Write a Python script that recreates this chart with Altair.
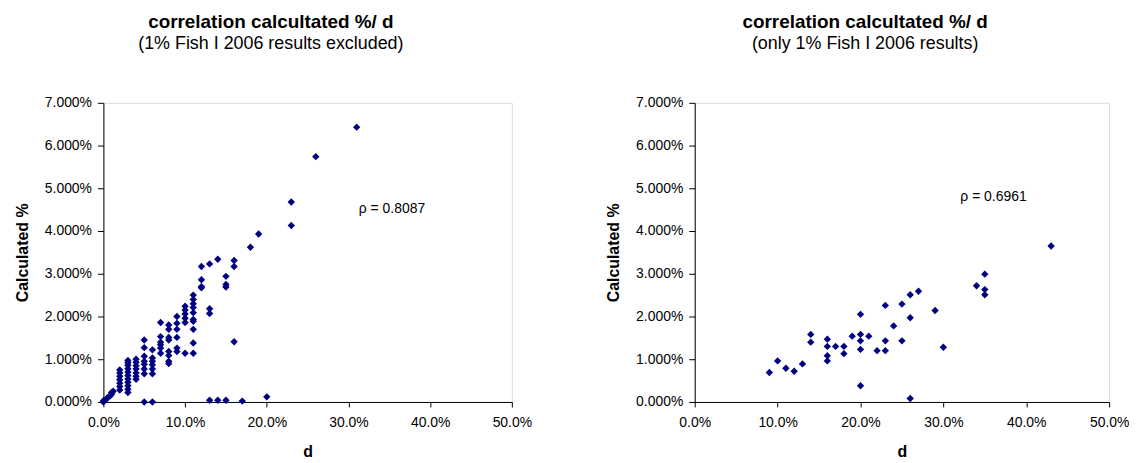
import altair as alt
import pandas as pd

# ---- data (fractions) ----
d_left = [
    0.0, 0.0, 0.003, 0.005, 0.008, 0.010, 0.010, 0.012,
    0.02, 0.02, 0.02, 0.02, 0.02, 0.02, 0.02,
    0.03, 0.03, 0.03, 0.03, 0.03, 0.03, 0.03, 0.03, 0.03, 0.03, 0.03,
    0.04, 0.04, 0.04, 0.04, 0.04, 0.04, 0.04,
    0.05, 0.05, 0.05, 0.05, 0.05, 0.05, 0.05, 0.05,
    0.06, 0.06, 0.06, 0.06, 0.06, 0.06, 0.06,
    0.07, 0.07, 0.07, 0.07, 0.07, 0.07,
    0.08, 0.08, 0.08, 0.08, 0.08, 0.08, 0.08, 0.08,
    0.09, 0.09, 0.09, 0.09, 0.09, 0.09,
    0.10, 0.10, 0.10, 0.10, 0.10, 0.10,
    0.11, 0.11, 0.11, 0.11, 0.11, 0.11, 0.11, 0.11, 0.11, 0.11,
    0.12, 0.12, 0.12, 0.12,
    0.13, 0.13, 0.13, 0.13,
    0.14, 0.14,
    0.15, 0.15, 0.15, 0.15,
    0.16, 0.16, 0.16,
    0.17, 0.18, 0.19, 0.20,
    0.23, 0.23, 0.26, 0.31,
]
calc_left = [
    0.0, 0.0003, 0.0005, 0.0010, 0.0014, 0.0018, 0.0022, 0.0025,
    0.0028, 0.0036, 0.0044, 0.0052, 0.0060, 0.0068, 0.0075,
    0.0022, 0.0030, 0.0038, 0.0046, 0.0054, 0.0062, 0.0070, 0.0078, 0.0086, 0.0092, 0.0097,
    0.0053, 0.0060, 0.0068, 0.0077, 0.0085, 0.0093, 0.0100,
    0.0, 0.0066, 0.0077, 0.0088, 0.0095, 0.0107, 0.0127, 0.0145,
    0.0, 0.0066, 0.0077, 0.0087, 0.0095, 0.0103, 0.0122,
    0.0114, 0.0126, 0.0134, 0.0140, 0.0153, 0.0186,
    0.0090, 0.0095, 0.0109, 0.0118, 0.0145, 0.0151, 0.0170, 0.0180,
    0.0118, 0.0126, 0.0151, 0.0170, 0.0184, 0.0200,
    0.0114, 0.0186, 0.0196, 0.0206, 0.0215, 0.0224,
    0.0114, 0.0138, 0.0170, 0.0189, 0.0193, 0.0209, 0.0221, 0.0230, 0.0240, 0.0250,
    0.0267, 0.0270, 0.0286, 0.0317,
    0.0004, 0.0207, 0.0218, 0.0323,
    0.0004, 0.0334,
    0.0004, 0.0269, 0.0275, 0.0294,
    0.0141, 0.0317, 0.0331,
    0.0002, 0.0362, 0.0393, 0.0012,
    0.0413, 0.0468, 0.0574, 0.0643,
]

d_right = [
    0.09, 0.10, 0.11, 0.12, 0.13, 0.14, 0.14, 0.16, 0.16, 0.16, 0.16,
    0.17, 0.18, 0.18, 0.19, 0.20, 0.20, 0.20, 0.20, 0.20, 0.21, 0.22,
    0.23, 0.23, 0.23, 0.24, 0.25, 0.25, 0.26, 0.26, 0.26, 0.27, 0.29,
    0.30, 0.34, 0.35, 0.35, 0.35, 0.43,
]
calc_right = [
    0.0069, 0.0096, 0.0079, 0.0072, 0.0089, 0.0158, 0.0140, 0.0147, 0.0130, 0.0108, 0.0096,
    0.0130, 0.0130, 0.0113, 0.0154, 0.0205, 0.0158, 0.0143, 0.0123, 0.0038, 0.0154, 0.0120,
    0.0226, 0.0143, 0.0120, 0.0178, 0.0229, 0.0143, 0.0251, 0.0197, 0.0008, 0.0259, 0.0214,
    0.0128, 0.0272, 0.0299, 0.0263, 0.0251, 0.0365,
]

rho_labels = ["\u03c1 = 0.8087", "\u03c1 = 0.6961"]
rho_d = [0.3127, 0.3205]
rho_calc = [0.04425, 0.04697]

x_ticks = [0.0, 0.1, 0.2, 0.3, 0.4, 0.5]
y_ticks = [0.0, 0.01, 0.02, 0.03, 0.04, 0.05, 0.06, 0.07]

titles = ["correlation calcultated %/ d", "correlation  calcultated %/ d"]
subtitles = ["(1% Fish I 2006 results excluded)", "(only 1% Fish I 2006 results)"]

FONT = "Liberation Sans"
NAVY = "#000080"


def panel(d_vals, c_vals, rho_idx, width, title, subtitle, dx):
    df = pd.DataFrame({"d": d_vals, "calc": c_vals})
    tdf = pd.DataFrame({"d": [rho_d[rho_idx]], "calc": [rho_calc[rho_idx]],
                        "label": [rho_labels[rho_idx]]})
    xenc = alt.X("d:Q", scale=alt.Scale(domain=[0, 0.5], nice=False, zero=False),
                 axis=alt.Axis(title="d", values=x_ticks, format=".1%", grid=False,
                               domainColor="#000000", tickColor="#000000", tickSize=5,
                               labelFont=FONT, labelFontSize=14, labelColor="#000000",
                               labelPadding=9, titleFont=FONT, titleFontSize=16,
                               titleFontWeight="bold", titleColor="#000000",
                               titlePadding=14, labelFlush=False))
    yenc = alt.Y("calc:Q", scale=alt.Scale(domain=[0, 0.07], nice=False, zero=False),
                 axis=alt.Axis(title="Calculated %", values=y_ticks, format=".3%", grid=False,
                               domainColor="#000000", tickColor="#000000", tickSize=6,
                               labelFont=FONT, labelFontSize=14, labelColor="#000000",
                               labelPadding=6, titleFont=FONT, titleFontSize=16,
                               titleFontWeight="bold", titleColor="#000000",
                               titlePadding=14, labelFlush=False))
    pts = alt.Chart(df).mark_point(shape="diamond", filled=True, size=55, color=NAVY,
                                   opacity=1).encode(x=xenc, y=yenc)
    txt = alt.Chart(tdf).mark_text(align="left", baseline="alphabetic", font=FONT,
                                   fontSize=14, color="#000000").encode(
        x=alt.X("d:Q"), y=alt.Y("calc:Q"), text="label:N")
    return alt.layer(pts, txt).properties(
        width=width, height=301,
        title=alt.TitleParams(text=title, subtitle=subtitle, font=FONT, fontSize=19,
                              fontWeight="bold", color="#000000", subtitleFont=FONT,
                              subtitleFontSize=18, subtitleColor="#000000",
                              subtitlePadding=3, anchor="middle", dx=dx, offset=43))


left = panel(d_left, calc_left, 0, 411, titles[0], subtitles[0], -37)
right = panel(d_right, calc_right, 1, 417, titles[1], subtitles[1], -37)

chart = alt.hconcat(left, right, spacing=73).properties(
    padding={"left": 6, "top": 3, "right": 0, "bottom": 0}
).configure_view(stroke=None).configure(background="#ffffff")

chart.save("out.html", embed_options={"renderer": "svg", "actions": False})
